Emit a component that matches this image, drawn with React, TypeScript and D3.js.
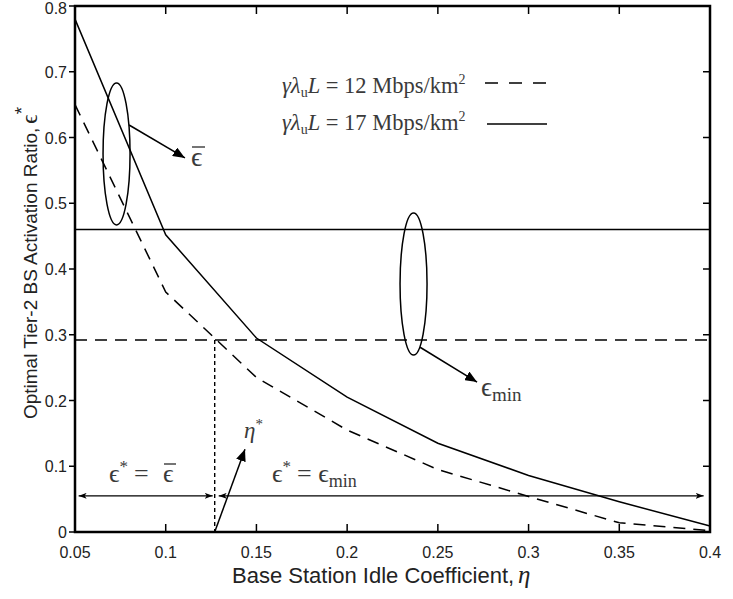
import React from "react";
import * as d3 from "d3";

// ---- data ----
const eta = [0.05, 0.1, 0.15, 0.2, 0.25, 0.3, 0.35, 0.4];
const eps12 = [0.65, 0.365, 0.235, 0.155, 0.095, 0.054, 0.014, 0.002];
const eps17 = [0.78, 0.452, 0.295, 0.205, 0.135, 0.086, 0.046, 0.009];
const epsMin12 = 0.292;
const epsMin17 = 0.46;
const etaStar = 0.127;
const xTicks = [0.05, 0.1, 0.15, 0.2, 0.25, 0.3, 0.35, 0.4];
const yTicks = [0, 0.1, 0.2, 0.3, 0.4, 0.5, 0.6, 0.7, 0.8];
const xTickLabels = ["0.05", "0.1", "0.15", "0.2", "0.25", "0.3", "0.35", "0.4"];
const yTickLabels = ["0", "0.1", "0.2", "0.3", "0.4", "0.5", "0.6", "0.7", "0.8"];
const legendLabels = ["12 Mbps/km", "17 Mbps/km"];

const W = 733, H = 599;
const L = 75, R = 710, T = 6, B = 532;

const x = d3.scaleLinear().domain([0.05, 0.4]).range([L, R]);
const y = d3.scaleLinear().domain([0, 0.8]).range([B, T]);

const line = d3
  .line<number>()
  .x((_, i) => x(eta[i]))
  .y((d) => y(d));

const serif = "'Liberation Serif', 'DejaVu Serif', serif";
const sans = "'Liberation Sans', Arial, sans-serif";
const mathColor = "#3a3a3a";

function Legend({ yb, label }: { yb: number; label: string }) {
  return (
    <text x={282} y={yb} fontFamily={serif} fontSize={22.5} fill={mathColor}>
      <tspan fontStyle="italic">γλ</tspan>
      <tspan fontSize={14} dy={4}>u</tspan>
      <tspan fontStyle="italic" dy={-4}>L</tspan> = {label}
      <tspan fontSize={14} dy={-9}>2</tspan>
    </text>
  );
}

export default function App() {
  return (
    <svg width={W} height={H} style={{ position: "absolute", left: 0, top: 0, background: "#fff" }}>
      <defs>
        <marker id="tri" viewBox="0 0 12 10" refX="12" refY="5" markerWidth="12" markerHeight="10" markerUnits="userSpaceOnUse" orient="auto">
          <path d="M0,0 L12,5 L0,10 Z" fill="#000" />
        </marker>
        <marker id="small" viewBox="0 0 8 6" refX="8" refY="3" markerWidth="8" markerHeight="6" markerUnits="userSpaceOnUse" orient="auto-start-reverse">
          <path d="M0,0 L8,3 L0,6 L2,3 Z" fill="#000" />
        </marker>
      </defs>
      <rect x={0} y={0} width={W} height={H} fill="#fff" />

      {/* reference lines */}
      <line x1={x(0.05)} x2={x(0.4)} y1={y(epsMin17)} y2={y(epsMin17)} stroke="#000" strokeWidth={1.5} />
      <line x1={x(0.05)} x2={x(0.4)} y1={y(epsMin12)} y2={y(epsMin12)} stroke="#000" strokeWidth={1.5} strokeDasharray="12 8" />
      <line x1={x(etaStar)} x2={x(etaStar)} y1={y(epsMin12)} y2={y(0)} stroke="#000" strokeWidth={1.4} strokeDasharray="4 3" />

      {/* curves */}
      <path d={line(eps17) || ""} fill="none" stroke="#000" strokeWidth={1.5} />
      <path d={line(eps12) || ""} fill="none" stroke="#000" strokeWidth={1.5} strokeDasharray="12 8" />

      {/* ticks */}
      {xTicks.map((t, i) => (
        <g key={"xt" + i}>
          <line x1={x(t)} x2={x(t)} y1={B} y2={B - 8} stroke="#000" strokeWidth={1.5} />
          <line x1={x(t)} x2={x(t)} y1={T} y2={T + 8} stroke="#000" strokeWidth={1.5} />
          <text x={x(t)} y={558} textAnchor="middle" fontFamily={sans} fontSize={16} fill="#222">{xTickLabels[i]}</text>
        </g>
      ))}
      {yTicks.map((t, i) => (
        <g key={"yt" + i}>
          <line x1={L} x2={L - 6} y1={y(t)} y2={y(t)} stroke="#000" strokeWidth={1.5} />
          <line x1={R} x2={R - 7} y1={y(t)} y2={y(t)} stroke="#000" strokeWidth={1.5} />
          <text x={67} y={Math.max(y(t) + 6, 14)} textAnchor="end" fontFamily={sans} fontSize={16} fill="#222">{yTickLabels[i]}</text>
        </g>
      ))}
      <rect x={L} y={T} width={R - L} height={B - T} fill="none" stroke="#000" strokeWidth={2.5} />

      {/* axis labels */}
      <text x={232} y={583} fontFamily={sans} fontSize={22} fill="#222">
        Base Station Idle Coefficient,
        <tspan fontFamily={serif} fontStyle="italic" fontSize={25} dx={4}>η</tspan>
      </text>
      <text transform="translate(37,263) rotate(-90)" textAnchor="middle" fontFamily={sans} fontSize={19} fill="#222">
        Optimal Tier-2 BS Activation Ratio,
        <tspan fontFamily={serif} fontSize={23} dx={4}>ϵ</tspan>
        <tspan fontFamily={sans} fontSize={19} dy={-9}>*</tspan>
      </text>

      {/* legend */}
      <Legend yb={93} label={legendLabels[0]} />
      <line x1={485} x2={547} y1={83} y2={83} stroke="#000" strokeWidth={1.5} strokeDasharray="13 11" />
      <Legend yb={130} label={legendLabels[1]} />
      <line x1={487} x2={547} y1={124} y2={124} stroke="#000" strokeWidth={1.5} />

      {/* ellipse annotation: eps bar */}
      <ellipse cx={x(0.0729)} cy={y(0.575)} rx={13.5} ry={71} fill="none" stroke="#000" strokeWidth={1.5} />
      <line x1={x(0.0798)} y1={y(0.619)} x2={x(0.1106)} y2={y(0.569)} stroke="#000" strokeWidth={1.5} markerEnd="url(#tri)" />
      <text x={191} y={166} fontFamily={serif} fontSize={28} fill={mathColor}>ϵ</text>
      <line x1={192} x2={205} y1={147} y2={147} stroke={mathColor} strokeWidth={1.4} />

      {/* ellipse annotation: eps min */}
      <ellipse cx={x(0.2366)} cy={y(0.377)} rx={13.5} ry={71} fill="none" stroke="#000" strokeWidth={1.5} />
      <line x1={x(0.2402)} y1={y(0.281)} x2={x(0.2716)} y2={y(0.228)} stroke="#000" strokeWidth={1.5} markerEnd="url(#tri)" />
      <text x={481} y={396} fontFamily={serif} fontSize={27} fill={mathColor}>
        ϵ<tspan fontSize={19} dy={5}>min</tspan>
      </text>

      {/* eta star */}
      <line x1={x(etaStar)} y1={y(0)} x2={x(0.1437)} y2={y(0.126)} stroke="#000" strokeWidth={1.5} markerEnd="url(#tri)" />
      <text x={244} y={438} fontFamily={serif} fontStyle="italic" fontSize={23} fill={mathColor}>
        η<tspan fontStyle="normal" fontSize={15} dy={-9}>*</tspan>
      </text>

      {/* regions */}
      <line x1={x(0.052)} x2={x(etaStar) - 2} y1={y(0.055)} y2={y(0.055)} stroke="#000" strokeWidth={1.4} markerStart="url(#small)" markerEnd="url(#small)" />
      <line x1={x(etaStar) + 4} x2={x(0.3965)} y1={y(0.055)} y2={y(0.055)} stroke="#000" strokeWidth={1.4} markerStart="url(#small)" markerEnd="url(#small)" />
      <text x={109} y={482} fontFamily={serif} fontSize={26} fill={mathColor}>
        ϵ<tspan fontSize={17} dy={-10}>*</tspan><tspan dy={10} dx={6}>=</tspan>
      </text>
      <text x={163} y={482} fontFamily={serif} fontSize={26} fill={mathColor}>ϵ</text>
      <line x1={164} x2={176} y1={464} y2={464} stroke={mathColor} strokeWidth={1.4} />
      <text x={272} y={482} fontFamily={serif} fontSize={26} fill={mathColor}>
        ϵ<tspan fontSize={17} dy={-10}>*</tspan><tspan dy={10} dx={6}>= ϵ</tspan><tspan fontSize={18} dy={5}>min</tspan>
      </text>
    </svg>
  );
}
